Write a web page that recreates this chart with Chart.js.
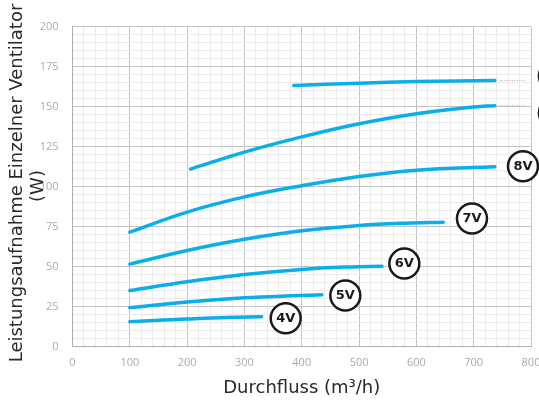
<!DOCTYPE html>
<html><head><meta charset="utf-8">
<script src="https://cdn.jsdelivr.net/npm/chart.js@4"></script>
<style>html,body{margin:0;padding:0;background:#fff}#wrap{width:539px;height:403px}</style>
</head><body><div id="wrap"><canvas id="c" width="539" height="403"></canvas></div>
<script>
const xTickLabels = [0,100,200,300,400,500,600,700,800];
const yTickLabels = [0,25,50,75,100,125,150,175,200];
const seriesNames = ['4V','5V','6V','7V','8V','9V','10V'];
const flow4V = [100,200,270,330];           const power4V = [15.5,17.2,18.2,18.6];
const flow5V = [100,200,300,380,435];       const power5V = [24.3,27.8,30.4,31.7,32.3];
const flow6V = [100,200,300,400,480,540];   const power6V = [35,40.5,45,48.2,49.7,50.2];
const flow7V = [100,200,300,400,500,580,647]; const power7V = [51.5,60,67,72.3,75.6,77.1,77.7];
const flow8V = [100,200,300,400,500,600,737]; const power8V = [71.5,84,93.5,100.5,106.3,110.2,112.4];
const flow9V = [206,300,400,500,600,700,737]; const power9V = [110.9,121.5,131,139.2,145.5,149.7,150.5];
const flow10V = [386,500,600,737];          const power10V = [163.1,164.6,165.6,166.3];
const labelX = [372,476,579,697,786,840,840];
const labelY = [17.7,31.9,51.8,80,112.6,146,169];
const dotted9X = [745,790]; const dotted9Y = [150.5,150.5];
const dotted10X = [745,790]; const dotted10Y = [166.3,166.3];

const flows = [flow4V,flow5V,flow6V,flow7V,flow8V,flow9V,flow10V];
const powers = [power4V,power5V,power6V,power7V,power8V,power9V,power10V];
const BLUE = '#0aaeea';
const datasets = flows.map((f,i)=>({
  label: seriesNames[i],
  data: f.map((x,j)=>({x:x,y:powers[i][j]})),
  borderColor: BLUE, borderWidth: 3.5, pointRadius: 0, fill:false,
  tension:0.4, borderCapStyle:'round'
}));
[[dotted9X,dotted9Y],[dotted10X,dotted10Y]].forEach(([xs,ys])=>{
  datasets.push({data: xs.map((x,j)=>({x:x,y:ys[j]})), borderColor:'#aaa', borderWidth:1,
    borderDash:[1,1.5], pointRadius:0, fill:false});
});

const labelPlugin = {
  id:'labelText',
  afterDatasetsDraw(chart){
    const ctx = chart.ctx;
    const xs = chart.scales.x, ys = chart.scales.y;
    ctx.save();
    labelX.forEach((v,i)=>{
      const px = xs.getPixelForValue(v), py = ys.getPixelForValue(labelY[i]);
      ctx.beginPath(); ctx.arc(px, py, 15, 0, Math.PI*2);
      ctx.fillStyle = '#fff'; ctx.fill();
      ctx.lineWidth = 2.5; ctx.strokeStyle = '#1a1a1a'; ctx.stroke();
      ctx.font = 'bold 13px "DejaVu Sans"';
      ctx.fillStyle = '#1a1a1a';
      ctx.textAlign = 'center'; ctx.textBaseline = 'middle';
      ctx.fillText(seriesNames[i], px, py+0.5);
    });
    ctx.restore();
  }
};
const yTitlePlugin = {
  id:'yTitle',
  afterDraw(chart){
    const ctx = chart.ctx;
    ctx.save();
    ctx.font = '18px "DejaVu Sans"';
    ctx.fillStyle = '#2a2a2a';
    ctx.textAlign='center'; ctx.textBaseline='middle';
    ctx.translate(17, 183); ctx.rotate(-Math.PI/2);
    ctx.fillText('Leistungsaufnahme Einzelner Ventilator', 0, 0);
    ctx.restore();
    ctx.save();
    ctx.font = '18px "DejaVu Sans"';
    ctx.fillStyle = '#2a2a2a';
    ctx.textAlign='center'; ctx.textBaseline='middle';
    ctx.translate(38.5, 186); ctx.rotate(-Math.PI/2);
    ctx.fillText('(W)', 0, 0);
    ctx.restore();
  }
};

new Chart(document.getElementById('c'), {
  type:'line',
  data:{datasets},
  options:{
    responsive:false, animation:false, devicePixelRatio:1,
    layout:{padding:{left:0,right:8,top:26.5,bottom:0}},
    plugins:{legend:{display:false}, tooltip:{enabled:false}},
    scales:{
      x:{type:'linear', min:0, max:800,
        afterFit(s){ s.height = 56.5; s.paddingLeft = 0; s.paddingRight = 0; },
        ticks:{stepSize:20, autoSkip:false, maxRotation:0, padding:10,
          color:'#aaa', font:{family:'Open Sans', size:11},
          callback:(v)=> xTickLabels.includes(v) ? String(v) : ''},
        grid:{drawTicks:false, color:(c)=> (c.tick && c.tick.value%100===0) ? '#c4c4c4' : '#ebebeb', lineWidth:1},
        border:{color:'#b0b0b0'},
        title:{display:true, text:'Durchfluss (m³/h)', color:'#2a2a2a', font:{family:'DejaVu Sans', size:18}, padding:{top:15}}
      },
      y:{type:'linear', min:0, max:200,
        afterFit(s){ s.width = 72.5; s.paddingTop = 0; s.paddingBottom = 0; },
        ticks:{stepSize:5, autoSkip:false, padding:14,
          color:'#aaa', font:{family:'Open Sans', size:11},
          callback:(v)=> yTickLabels.includes(v) ? String(v) : ''},
        grid:{drawTicks:false, color:(c)=> (c.tick && c.tick.value%25===0) ? '#c4c4c4' : '#ebebeb', lineWidth:1},
        border:{color:'#b0b0b0'}
      }
    }
  },
  plugins:[labelPlugin, yTitlePlugin]
});
</script></body></html>
